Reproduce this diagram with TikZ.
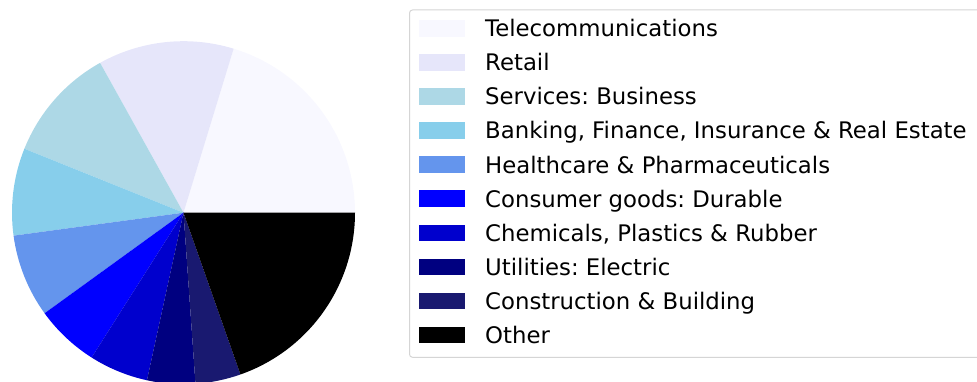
\documentclass[tikz,border=0pt]{standalone}
\usepackage{fontspec}
\setmainfont{DejaVu Sans}
\usepackage{xcolor}
\usepackage{tikz}
\frenchspacing

\definecolor{telecom}{HTML}{F8F8FF}
\definecolor{retail}{HTML}{E6E6FA}
\definecolor{services}{HTML}{ADD8E6}
\definecolor{banking}{HTML}{87CEEB}
\definecolor{health}{HTML}{6495ED}
\definecolor{consumer}{HTML}{0000FF}
\definecolor{chemicals}{HTML}{0000CD}
\definecolor{utilities}{HTML}{000080}
\definecolor{construction}{HTML}{191970}
\definecolor{other}{HTML}{000000}
\definecolor{legendedge}{HTML}{D5D5D5}

\begin{document}
\begin{tikzpicture}[x=1pt,y=1pt,
    patch/.style={minimum width=46pt, minimum height=16.5pt, inner sep=0pt},
    entry/.style={anchor=base west, inner sep=0pt, font=\fontsize{22.8}{26}\selectfont}]
    \useasboundingbox (0,0) rectangle (977,381);
    \clip (0,0) rectangle (977,381);
    % pie
    \coordinate (c) at (183.5,168.3);
    \foreach \a/\b/\col in {0/73/telecom, 73/119.1/retail, 119.1/158.1/services,
        158.1/187.7/banking, 187.7/215.9/health, 215.9/237.6/consumer,
        237.6/257.7/chemicals, 257.7/274/utilities, 274/289.4/construction,
        289.4/360/other}
        \fill[\col] (c) -- ++(\a:171.5) arc[start angle=\a, end angle=\b, radius=171.5] -- cycle;
    % legend
    \draw[legendedge, line width=1pt, rounded corners=3pt, fill=white] (409.5,23.7) rectangle (990,371);
    \foreach \col/\txt [count=\i] in {telecom/Telecommunications, retail/Retail,
        services/{Services: Business}, banking/{Banking, Finance, Insurance \& Real Estate},
        health/{Healthcare \& Pharmaceuticals}, consumer/{Consumer goods: Durable},
        chemicals/{Chemicals, Plastics \& Rubber}, utilities/{Utilities: Electric},
        construction/{Construction \& Building}, other/Other}{
        \node[patch, fill=\col] (p\i) at (442, {352.7-34.08*(\i-1)}) {};
        \node[entry] (t\i) at (485, {344.3-34.08*(\i-1)}) {\txt};
    }
\end{tikzpicture}
\end{document}
